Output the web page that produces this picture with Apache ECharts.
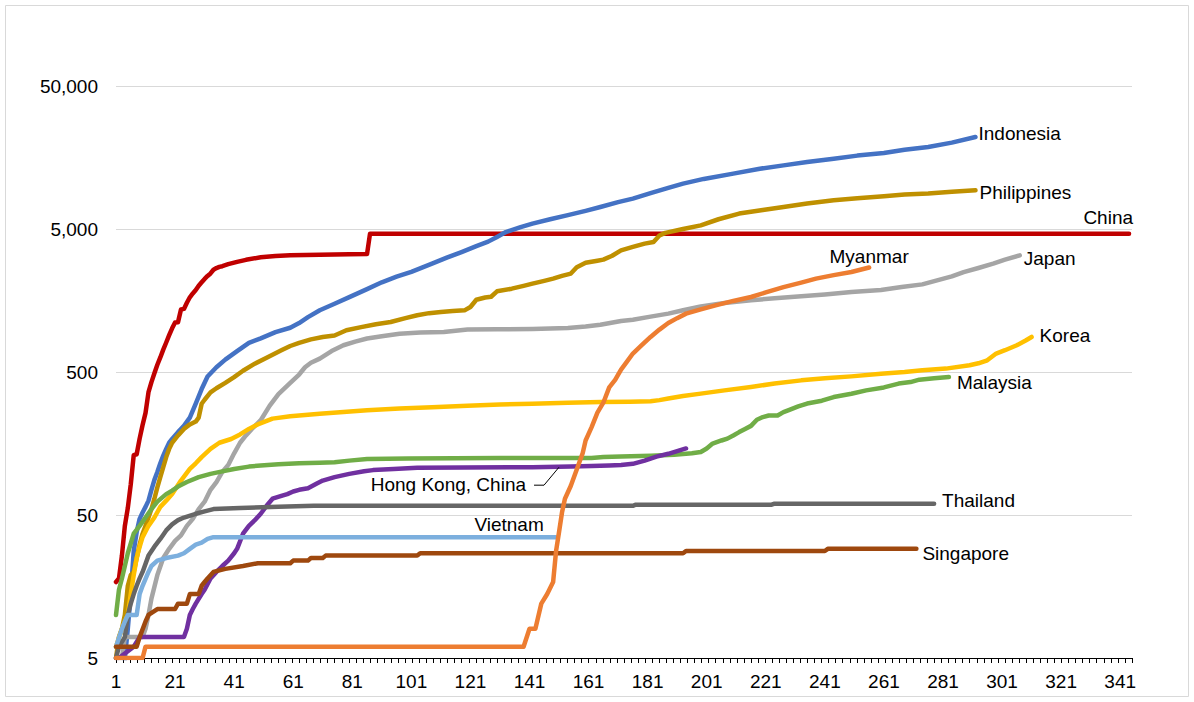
<!DOCTYPE html>
<html>
<head>
<meta charset="utf-8">
<script src="https://cdn.jsdelivr.net/npm/echarts@6/dist/echarts.min.js"></script>
<style>
html,body{margin:0;padding:0;background:#fff;}
#c{width:1194px;height:702px;}
</style>
</head>
<body>
<div id="c"></div>
<script>
// ---- axis tick labels ----
const xTickLabels = ['1','21','41','61','81','101','121','141','161','181','201','221','241','261','281','301','321','341'];
const yTickLabels = ['5','50','500','5,000','50,000'];
const yBase = 5;

// ---- series data: day number and cumulative deaths ----
const chinaDays = [1,2,3,4,5,6,7,8,9,10,11,12,13,14,15,16,17,18,19,20,21,22,23,24,25,26,27,28,29,30,31,32,33,34,35,36,37,38,39,40,42,45,50,55,60,65,70,75,80,86,87,120,200,344];
const chinaDeaths = [17,18,26,42,56,82,131,133,171,213,259,361,425,490,562,632,717,804,904,1011,1111,1116,1368,1381,1524,1666,1772,1870,2006,2121,2239,2348,2445,2595,2665,2717,2746,2790,2837,2872,2947,3044,3172,3241,3274,3296,3309,3322,3331,3342,4632,4634,4634,4634];

const indonesiaDays = [1,2,3,4,5,6,7,8,9,10,11,12,13,14,15,16,17,18,19,20,22,24,26,28,30,32,35,38,42,46,50,55,60,63,66,70,75,80,86,91,96,101,108,113,118,123,127,130,133,138,142,148,154,160,165,171,176,182,188,193,200,210,219,227,235,244,252,261,268,276,284,292];
const indonesiaDeaths = [1,1,3,5,8,14,28,38,47,52,57,63,75,88,100,115,130,145,160,170,190,210,240,300,380,465,540,610,700,800,860,950,1020,1100,1210,1350,1500,1670,1900,2120,2320,2510,2860,3150,3450,3800,4080,4400,4760,5150,5450,5850,6250,6700,7130,7700,8160,8900,9700,10380,11200,12190,13200,13930,14700,15520,16300,17000,17900,18720,20100,21980];

const philippinesDays = [1,2,3,4,5,6,7,8,9,10,11,12,13,14,15,16,17,18,19,20,22,24,26,28,29,30,31,33,35,38,41,44,48,52,57,60,63,67,71,75,79,84,89,94,99,103,107,111,115,119,121,123,126,128,130,135,139,142,146,149,152,155,157,160,164,166,169,172,176,180,183,185,187,193,199,205,212,220,227,235,244,252,261,268,276,284,292];
const philippinesDeaths = [5,7,8,10,16,19,20,25,31,37,42,48,55,65,78,92,108,127,145,160,180,200,215,225,240,300,320,360,385,420,461,510,572,630,709,760,800,845,879,900,980,1030,1080,1119,1190,1247,1290,1316,1335,1349,1425,1600,1660,1680,1833,1913,2000,2074,2170,2250,2350,2440,2700,2900,3000,3052,3250,3548,3750,3950,4056,4500,4700,5000,5300,5850,6410,6800,7130,7550,7940,8200,8470,8700,8850,9100,9330];

const japanDays = [1,3,4,9,10,11,12,13,15,17,19,21,23,25,27,29,31,33,35,37,39,41,43,45,47,50,53,56,60,63,65,67,70,74,78,82,86,91,97,104,112,120,130,142,154,160,165,172,176,182,188,193,199,207,216,224,233,241,250,260,267,274,279,284,288,293,298,302,307];
const japanDeaths = [5,5,7,7,7,8,10,13,19,25,29,33,36,42,47,55,62,75,85,100,112,135,160,180,200,230,290,350,420,480,540,580,620,700,769,815,857,890,927,945,953,990,995,1000,1016,1040,1070,1138,1160,1220,1280,1350,1438,1520,1585,1640,1690,1740,1812,1870,1963,2050,2188,2330,2500,2670,2864,3050,3274];

const koreaDays = [1,3,5,6,7,8,9,10,12,14,16,18,20,23,26,28,30,33,36,40,43,46,49,54,60,65,70,78,86,97,108,120,131,142,154,165,175,182,185,188,193,199,207,216,224,233,241,250,260,268,274,282,290,293,296,299,302,306,309,311];
const koreaDeaths = [6,8,10,14,19,25,30,35,42,48,57,63,70,87,105,115,127,145,160,170,183,200,215,236,245,250,255,263,270,278,284,290,296,300,305,308,310,312,318,326,340,353,372,393,415,437,452,466,487,500,514,528,557,575,604,673,710,769,830,879];

const malaysiaDays = [1,2,3,4,5,7,9,11,13,15,18,20,22,25,29,33,37,41,46,50,56,63,70,75,80,86,100,131,162,166,172,182,190,196,199,201,203,206,208,210,212,214,216,218,220,222,225,227,229,232,235,240,244,250,255,261,266,270,273,278,283];
const malaysiaDeaths = [10,15,18,22,27,37,42,48,55,62,70,74,79,85,92,97,101,105,109,111,113,115,116,117,120,123,124,125,125,127,128,130,132,135,138,146,158,166,171,180,190,200,210,232,242,248,248,262,272,287,301,315,334,352,372,390,415,425,442,452,461];

const hongKongDays = [1,2,7,9,24,25,26,27,28,30,31,33,35,37,39,41,42,44,46,48,50,52,54,57,59,61,63,66,69,71,75,80,85,88,95,103,142,155,162,168,172,176,180,184,188,191,194];
const hongKongDeaths = [5,5,6,7,7,8,10,11,12,14,15,18,20,22,24,27,29,37,42,46,51,58,65,68,70,73,75,77,83,87,92,97,101,103,105,107,108,109,110,111,112,114,120,128,134,140,146];

const thailandDays = [1,2,4,5,6,7,8,9,10,12,14,16,18,20,22,24,28,31,34,43,56,68,176,177,223,224,278];
const thailandDeaths = [5,6,7,10,12,14,16,18,20,26,30,34,39,43,46,48,51,53,55,56,57,58,58,59,59,60,60];

const vietnamDays = [1,3,4,5,8,9,10,12,13,15,18,22,24,26,28,30,32,34,150];
const vietnamDeaths = [6,8,9,10,10,14,16,20,22,24,25,26,27,29,31,32,34,35,35];

const singaporeDays = [1,8,9,11,12,15,21,22,25,26,29,30,31,32,34,38,44,49,60,61,66,67,71,72,103,104,193,194,241,242,272];
const singaporeDeaths = [6,6,7,9,10,11,11,12,12,14,14,16,17,18,20,21,22,23,23,24,24,25,25,26,26,27,27,28,28,29,29];

const myanmarDays = [1,10,11,139,141,143,145,147,149,150,151,152,153,155,157,159,160,162,164,166,168,170,172,174,176,179,182,185,188,191,194,199,204,210,216,221,227,233,238,244,250,256];
const myanmarDeaths = [5,5,6,6,8,8,12,14,17,28,38,52,65,80,104,135,166,205,260,305,390,440,520,590,673,770,880,990,1100,1190,1280,1370,1463,1570,1673,1800,1963,2110,2250,2380,2500,2690];

// ---- styling / label placement (not data) ----
const FONT = '"Liberation Sans", Arial, Helvetica, sans-serif';
const seriesDefs = [
  {name:'China', days:chinaDays, deaths:chinaDeaths, color:'#C00000', label:{dx:4, dy:-16, align:'right'}},
  {name:'Indonesia', days:indonesiaDays, deaths:indonesiaDeaths, color:'#4472C4', label:{dx:3, dy:-4, align:'left'}},
  {name:'Philippines', days:philippinesDays, deaths:philippinesDeaths, color:'#BF9000', label:{dx:4, dy:2, align:'left'}},
  {name:'Japan', days:japanDays, deaths:japanDeaths, color:'#A5A5A5', label:{dx:4, dy:3, align:'left'}},
  {name:'Korea', days:koreaDays, deaths:koreaDeaths, color:'#FFC000', label:{dx:8, dy:-1, align:'left'}},
  {name:'Malaysia', days:malaysiaDays, deaths:malaysiaDeaths, color:'#70AD47', label:{dx:8, dy:5, align:'left'}},
  {name:'Hong Kong, China', days:hongKongDays, deaths:hongKongDeaths, color:'#7030A0', label:{at:[151,108], dx:-33, dy:17, align:'right', leader:[[0,0],[-15,18],[-25,18]]}},
  {name:'Thailand', days:thailandDays, deaths:thailandDeaths, color:'#666666', label:{dx:8, dy:-3, align:'left'}},
  {name:'Vietnam', days:vietnamDays, deaths:vietnamDeaths, color:'#7CAFDE', label:{dx:-47, dy:-13, align:'center'}},
  {name:'Singapore', days:singaporeDays, deaths:singaporeDeaths, color:'#9E480E', label:{dx:6, dy:5, align:'left'}},
  {name:'Myanmar', days:myanmarDays, deaths:myanmarDeaths, color:'#ED7D31', label:{dx:0, dy:-11, align:'center'}}
];

const toY = v => Math.log10(v / yBase);

const chart = echarts.init(document.getElementById('c'), null, {renderer:'svg'});

const option = {
  animation:false,
  backgroundColor:'#ffffff',
  textStyle:{fontFamily:FONT},
  grid:{left:116, right:62, top:86, bottom:44, containLabel:false},
  xAxis:[
    {
      type:'value', min:0, max:344, interval:20,
      axisLine:{show:true, onZero:false, lineStyle:{color:'#000', width:1}},
      axisTick:{show:false},
      splitLine:{show:false},
      axisLabel:{
        color:'#000', fontSize:19, fontFamily:FONT, margin:14,
        formatter:v => (v % 20 === 0 ? (xTickLabels[v / 20] || '') : '')
      }
    },
    {
      type:'value', position:'bottom', min:0, max:344, interval:344/144,
      axisLine:{show:false, onZero:false},
      axisTick:{show:true, length:5, lineStyle:{color:'#000', width:1}},
      axisLabel:{show:false},
      splitLine:{show:false}
    }
  ],
  yAxis:{
    type:'value', min:0, max:4, interval:1,
    axisLine:{show:false}, axisTick:{show:false},
    splitLine:{lineStyle:{color:'#d9d9d9', width:1}},
    axisLabel:{
      color:'#000', fontSize:19, fontFamily:FONT, margin:18,
      formatter:v => yTickLabels[Math.round(v)] || ''
    }
  },
  series: seriesDefs.map(s => ({
    type:'line', name:s.name, xAxisIndex:0, yAxisIndex:0,
    data: s.days.map((d, i) => [d - 1, toY(s.deaths[i])]),
    showSymbol:false, symbol:'none', silent:true,
    lineStyle:{color:s.color, width:4.5, cap:'round', join:'round'},
    itemStyle:{color:s.color},
    emphasis:{disabled:true}
  }))
};
chart.setOption(option);

const graphics = [{
  type:'rect', silent:true, z:0,
  shape:{x:5.5, y:5.5, width:1183, height:691},
  style:{fill:'none', stroke:'#d9d9d9', lineWidth:1}
}];
seriesDefs.forEach((s, i) => {
  const L = s.label;
  const n = s.days.length;
  const anchor = L.at ? [L.at[0] - 1, toY(L.at[1])] : [s.days[n - 1] - 1, toY(s.deaths[n - 1])];
  const p = chart.convertToPixel({seriesIndex:i}, anchor);
  graphics.push({
    type:'text', z:100, silent:true,
    x:p[0] + L.dx, y:p[1] + L.dy,
    style:{text:s.name, fill:'#000', fontSize:19, fontFamily:FONT,
      align:L.align, textAlign:L.align, verticalAlign:'middle', textVerticalAlign:'middle'}
  });
  if (L.leader) {
    graphics.push({
      type:'polyline', z:100, silent:true,
      shape:{points:L.leader.map(q => [p[0] + q[0], p[1] + q[1]])},
      style:{stroke:'#000', lineWidth:1, fill:null}
    });
  }
});
chart.setOption({graphic:graphics});
</script>
</body>
</html>
